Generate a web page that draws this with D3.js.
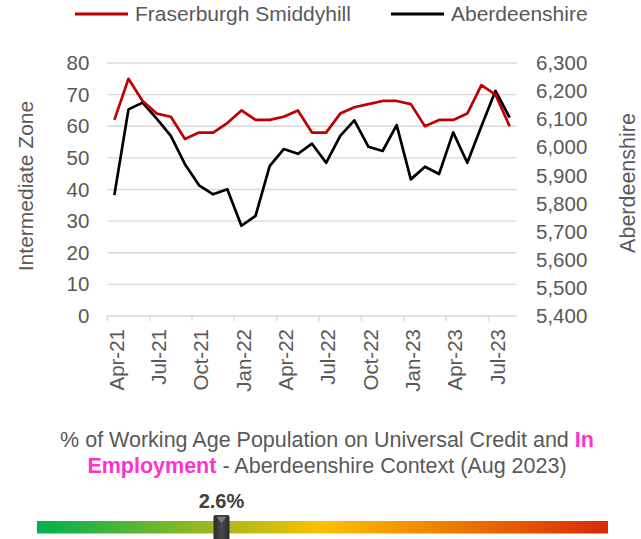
<!DOCTYPE html>
<html>
<head>
<meta charset="utf-8">
<title>Universal Credit - Fraserburgh Smiddyhill</title>
<style>
body {
  margin: 0;
  padding: 0;
  background: #fff;
}
svg {
  display: block;
  font-family: "Liberation Sans", Arial, sans-serif;
}
</style>
<script src="https://d3js.org/d3.v7.min.js"></script>
</head>
<body>
<svg id="chart" width="641" height="539"></svg>

<script>
// monthly categories
const months = [
  "Apr-21", "May-21", "Jun-21", "Jul-21", "Aug-21", "Sep-21", "Oct-21", "Nov-21", "Dec-21",
  "Jan-22", "Feb-22", "Mar-22", "Apr-22", "May-22", "Jun-22", "Jul-22", "Aug-22", "Sep-22",
  "Oct-22", "Nov-22", "Dec-22", "Jan-23", "Feb-23", "Mar-23", "Apr-23", "May-23", "Jun-23",
  "Jul-23", "Aug-23"
];

// Fraserburgh Smiddyhill (left axis)
const zoneValues = [
  62, 75, 68, 64, 63, 56, 58, 58, 61, 65, 62, 62, 63, 65, 58,
  58, 64, 66, 67, 68, 68, 67, 60, 62, 62, 64, 73, 70, 60
];

// Aberdeenshire (right axis)
const shireValues = [
  5830, 6135, 6159, 6102, 6041, 5940, 5865, 5833, 5851, 5721, 5756, 5933, 5994, 5977, 6013,
  5945, 6041, 6096, 6002, 5987, 6079, 5886, 5931, 5905, 6053, 5945, 6075, 6201, 6106
];

const leftTicks = [0, 10, 20, 30, 40, 50, 60, 70, 80];
const rightTicks = [5400, 5500, 5600, 5700, 5800, 5900, 6000, 6100, 6200, 6300];

const seriesNames = ["Fraserburgh Smiddyhill", "Aberdeenshire"];
const seriesColors = ["#c00000", "#000000"];

// context slider
const contextValue = 2.6;
const contextRange = [0.5, 7.0];
const gradientColors = ["#00b050", "#ffc000", "#d92800"];

const svg = d3.select("#chart");
const textColor = "#595959";
const gridColor = "#d9d9d9";

const plot = { left: 107.3, right: 516.7, top: 63, bottom: 316 };

const x = d3.scaleBand().domain(months).range([plot.left, plot.right]);
const yLeft = d3.scaleLinear().domain([0, 80]).range([plot.bottom, plot.top]);
const yRight = d3.scaleLinear().domain([5400, 6300]).range([plot.bottom, plot.top]);

// gridlines
svg.append("g")
  .selectAll("line")
  .data(leftTicks.slice(1))
  .join("line")
  .attr("x1", plot.left)
  .attr("x2", plot.right)
  .attr("y1", d => yLeft(d))
  .attr("y2", d => yLeft(d))
  .attr("stroke", gridColor)
  .attr("stroke-width", 1.3);

// left axis
const gLeft = svg.append("g")
  .attr("transform", `translate(${plot.left},0)`)
  .call(d3.axisLeft(yLeft).tickValues(leftTicks).tickSize(0).tickPadding(18));
gLeft.select(".domain").remove();
gLeft.selectAll("text")
  .attr("fill", textColor)
  .attr("font-size", 20.5)
  .attr("font-family", "Liberation Sans, Arial, sans-serif");

// right axis
const gRight = svg.append("g")
  .attr("transform", `translate(${plot.right},0)`)
  .call(d3.axisRight(yRight).tickValues(rightTicks).tickSize(0).tickPadding(19.3)
    .tickFormat(d3.format(",")));
gRight.select(".domain").remove();
gRight.selectAll("text")
  .attr("fill", textColor)
  .attr("font-size", 20.5)
  .attr("font-family", "Liberation Sans, Arial, sans-serif");

// bottom axis line and tick marks at every third month
svg.append("line")
  .attr("x1", plot.left)
  .attr("x2", plot.right)
  .attr("y1", plot.bottom)
  .attr("y2", plot.bottom)
  .attr("stroke", gridColor)
  .attr("stroke-width", 1.3);

const labelMonths = months.filter((d, i) => i % 3 === 0);

svg.append("g")
  .selectAll("line")
  .data(labelMonths)
  .join("line")
  .attr("x1", d => x(d))
  .attr("x2", d => x(d))
  .attr("y1", plot.bottom)
  .attr("y2", plot.bottom + 5)
  .attr("stroke", gridColor)
  .attr("stroke-width", 1.3);

const gBottom = svg.append("g")
  .attr("transform", `translate(0,${plot.bottom})`)
  .call(d3.axisBottom(x).tickValues(labelMonths).tickSize(0));
gBottom.select(".domain").remove();
gBottom.selectAll("text")
  .attr("transform", "rotate(-90)")
  .attr("x", -13)
  .attr("y", 0)
  .attr("dy", "0.45em")
  .attr("text-anchor", "end")
  .attr("fill", textColor)
  .attr("font-size", 20.5)
  .attr("font-family", "Liberation Sans, Arial, sans-serif");

// axis titles
svg.append("text")
  .attr("transform", "translate(33,186) rotate(-90)")
  .attr("text-anchor", "middle")
  .attr("fill", textColor)
  .attr("font-size", 21)
  .text("Intermediate Zone");

svg.append("text")
  .attr("transform", "translate(635,183) rotate(-90)")
  .attr("text-anchor", "middle")
  .attr("fill", textColor)
  .attr("font-size", 21.5)
  .text("Aberdeenshire");

// lines
const lineLeft = d3.line()
  .x((d, i) => x(months[i]) + x.bandwidth() / 2)
  .y(d => yLeft(d));

const lineRight = d3.line()
  .x((d, i) => x(months[i]) + x.bandwidth() / 2)
  .y(d => yRight(d));

svg.append("path")
  .datum(shireValues)
  .attr("d", lineRight)
  .attr("fill", "none")
  .attr("stroke", seriesColors[1])
  .attr("stroke-width", 2.7)
  .attr("stroke-linejoin", "round");

svg.append("path")
  .datum(zoneValues)
  .attr("d", lineLeft)
  .attr("fill", "none")
  .attr("stroke", seriesColors[0])
  .attr("stroke-width", 2.7)
  .attr("stroke-linejoin", "round");

// legend
const legendX = [75, 391];
const legend = svg.append("g")
  .selectAll("g")
  .data(seriesNames)
  .join("g")
  .attr("transform", (d, i) => `translate(${legendX[i]},14)`);
legend.append("line")
  .attr("x1", 0)
  .attr("x2", 53)
  .attr("stroke", (d, i) => seriesColors[i])
  .attr("stroke-width", 3);
legend.append("text")
  .attr("x", 60)
  .attr("y", 7)
  .attr("fill", textColor)
  .attr("font-size", 21)
  .text(d => d);

// context title
const title = svg.append("text")
  .attr("text-anchor", "middle")
  .attr("fill", textColor)
  .attr("font-size", 21.5);
const line1 = title.append("tspan").attr("x", 327).attr("y", 447);
line1.append("tspan").text("% of Working Age Population on Universal Credit and ");
line1.append("tspan").attr("fill", "#ff33cc").attr("font-weight", "bold").text("In");
const line2 = title.append("tspan").attr("x", 327).attr("y", 473);
line2.append("tspan").attr("fill", "#ff33cc").attr("font-weight", "bold").text("Employment");
line2.append("tspan").text(" - Aberdeenshire Context (Aug 2023)");

// gradient bar
const bar = { left: 37, right: 608, top: 521, height: 12.5 };
const defs = svg.append("defs");
const grad = defs.append("linearGradient").attr("id", "ctxGrad");
grad.selectAll("stop")
  .data(gradientColors)
  .join("stop")
  .attr("offset", (d, i) => i / (gradientColors.length - 1))
  .attr("stop-color", d => d);

const markGrad = defs.append("linearGradient").attr("id", "markGrad");
markGrad.append("stop").attr("offset", 0).attr("stop-color", "#2a2a2a");
markGrad.append("stop").attr("offset", 0.5).attr("stop-color", "#4a4a4a");
markGrad.append("stop").attr("offset", 1).attr("stop-color", "#2a2a2a");

svg.append("rect")
  .attr("x", bar.left)
  .attr("y", bar.top)
  .attr("width", bar.right - bar.left)
  .attr("height", bar.height)
  .attr("fill", "url(#ctxGrad)");

const ctx = d3.scaleLinear().domain(contextRange).range([bar.left, bar.right]);
const mx = ctx(contextValue);

svg.append("rect")
  .attr("x", mx - 8)
  .attr("y", 515)
  .attr("width", 16)
  .attr("height", 30)
  .attr("rx", 2)
  .attr("fill", "url(#markGrad)");
svg.append("path")
  .attr("d", `M${mx - 5},517 L${mx + 5},517 L${mx},523 Z`)
  .attr("fill", "#7a7a7a");

svg.append("text")
  .attr("x", mx)
  .attr("y", 508)
  .attr("text-anchor", "middle")
  .attr("fill", "#404040")
  .attr("font-size", 20)
  .attr("font-weight", "bold")
  .text(contextValue.toFixed(1) + "%");
</script>
</body>
</html>
